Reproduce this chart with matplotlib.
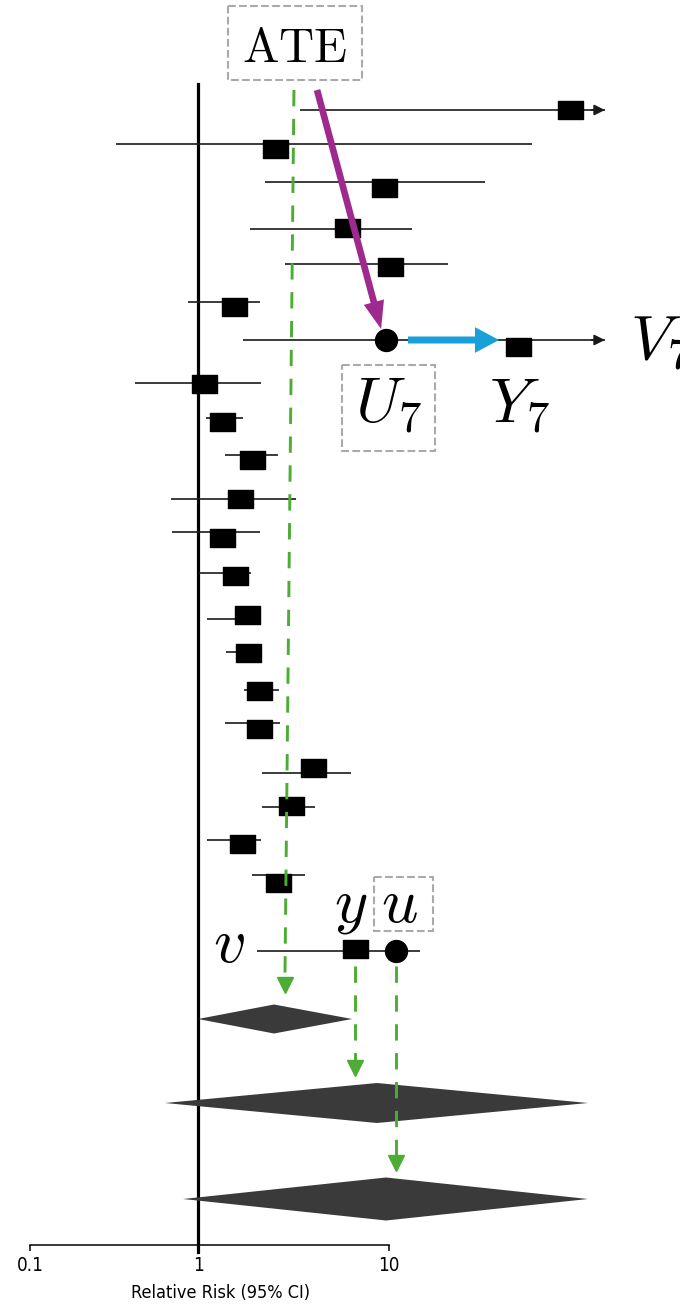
import numpy as np
import matplotlib.pyplot as plt
from matplotlib.path import Path
from matplotlib.patches import Rectangle
from matplotlib.ticker import NullLocator

plt.rcParams['mathtext.fontset'] = 'cm'
plt.rcParams['font.family'] = ['Liberation Sans Narrow', 'DejaVu Sans']
plt.rcParams['font.stretch'] = 'condensed'

# per-study relative risk and 95% CI
rr = [88.7, 2.53, 9.42, 6.03, 10.1, 1.54, 47.6, 1.075, 1.34, 1.92, 1.65,
      1.34, 1.56, 1.81, 1.83, 2.09, 2.09, 4.00, 3.07, 1.70, 2.61, 6.64]
ci_lo = [3.42, 0.325, 2.24, 1.87, 2.85, 0.872, 1.72, 0.422, 1.10, 1.385, 0.690,
         0.700, 1.01, 1.115, 1.40, 1.74, 1.385, 2.16, 2.16, 1.115, 1.92, 2.04]
ci_hi = [250, 56.1, 31.8, 13.2, 20.4, 2.11, 250, 2.14, 1.72, 2.62, 3.26,
         2.11, 1.89, 2.14, 2.14, 2.66, 2.69, 6.33, 4.10, 2.14, 3.63, 14.5]

# pooled estimates (diamonds)
pooled_rr = [2.50, 8.65, 9.65]
pooled_lo = [1.0, 0.636, 0.814]
pooled_hi = [6.41, 110, 110]

# latent values drawn as circles
u7_val = 9.59
u_new_val = 10.9
ate_val = 3.18

tick_vals = [0.1, 1, 10]
tick_labels = ['0.1', '1', '10']

# layout: vertical positions (pixel rows from the top)
line_y = [110, 144, 182, 229, 264, 302, 340, 383, 418, 455, 499,
          532, 573, 619, 652, 690, 723, 773, 807, 840, 875, 951]
box_y = [110, 149, 188, 228, 267, 307, 347, 384, 422, 460, 499,
         538, 576, 615, 653, 691, 729, 768, 806, 844, 883, 949]
diamond_y = [1019, 1103, 1199]
diamond_h = [14.5, 20, 21.5]
x_clip = 135

GREEN = '#4dac34'
PURPLE = '#9e2a90'
BLUE = '#19a0d9'
BOXGRAY = '#aaaaaa'


# log axis with a wider decade above 1 than below it
def fwd(x):
    lx = np.log10(np.clip(x, 1e-9, None))
    return np.where(lx < 0, lx * 168 / 191, lx)


def inv(t):
    t = np.asarray(t, dtype=float)
    return np.where(t < 0, 10 ** (t * 191 / 168), 10 ** t)


def dashed_box(ax, x0, x1, y0, y1):
    ax.add_patch(Rectangle((x0, y0), x1 - x0, y1 - y0, fill=False,
                           ec=BOXGRAY, ls='--', lw=1.5, zorder=8))


fig = plt.figure(figsize=(6.8, 13.04), dpi=100)
ax = fig.add_axes([0, 59 / 1304, 1, 1245 / 1304])
ax.set_xscale('function', functions=(fwd, inv))
ax.set_xlim(float(inv(-198 / 191)), float(inv(482 / 191)))
ax.set_ylim(1245, 0)

for s in ['left', 'top', 'right']:
    ax.spines[s].set_visible(False)
ax.spines['bottom'].set_bounds(0.1, 10)
ax.spines['bottom'].set_linewidth(1.1)
ax.set_yticks([])
ax.set_xticks(tick_vals)
ax.set_xticklabels(tick_labels)
ax.xaxis.set_minor_locator(NullLocator())
ax.tick_params(axis='x', length=4, width=1.1, labelsize=13.5, pad=4)
ax.set_xlabel('Relative Risk (95% CI)', fontsize=13)
ax.xaxis.set_label_coords(220.5 / 680, -0.031)

# line of no effect
ax.plot([1, 1], [84, 1252], color='black', lw=2.3, clip_on=False, zorder=2)

# study rows
rect = Path([(-1, -0.72), (1, -0.72), (1, 0.72), (-1, 0.72), (-1, -0.72)],
            [Path.MOVETO, Path.LINETO, Path.LINETO, Path.LINETO, Path.CLOSEPOLY])
for lo, hi, y in zip(ci_lo, ci_hi, line_y):
    right = min(hi, x_clip)
    ax.plot([lo, right], [y, y], color='#1a1a1a', lw=1.2, zorder=3,
            solid_capstyle='butt')
    if hi > x_clip:
        ax.annotate('', xy=(x_clip, y), xytext=(x_clip * 0.85, y),
                    arrowprops=dict(arrowstyle='-|>', color='#1a1a1a',
                                    lw=1.2, mutation_scale=16,
                                    shrinkA=0, shrinkB=0), zorder=3)
ax.plot(rr, box_y, ls='none', marker=rect, ms=18, color='black', zorder=4)

# circles for the latent values
ax.plot([u7_val, u_new_val], [line_y[6], line_y[21]], ls='none', marker='o',
        ms=15.8, color='black', zorder=5)

# pooled diamonds
for est, lo, hi, y, h in zip(pooled_rr, pooled_lo, pooled_hi, diamond_y, diamond_h):
    ax.fill([lo, est, hi, est], [y, y - h, y, y + h], color='#3a3a3a',
            lw=0, zorder=3)

# green dashed projections
dash = (0, (5.6, 4.3))
green_paths = [((ate_val, 90), (2.85, 985)),
               ((rr[21], 966), (rr[21], 1068)),
               ((u_new_val, 966), (u_new_val, 1163))]
for (x0, y0), (x1, y1) in green_paths:
    ax.plot([x0, x1], [y0, y1], color=GREEN, lw=2.1, ls=dash, zorder=6)
    ax.plot([x1], [y1], marker='v', ms=11.5, color=GREEN, ls='none', zorder=6)

# purple and blue arrows
ax.annotate('', xy=(9.09, 329), xytext=(4.20, 90),
            arrowprops=dict(arrowstyle='simple,head_length=1.0,head_width=0.75,tail_width=0.24',
                            color=PURPLE, lw=0, mutation_scale=20,
                            shrinkA=0, shrinkB=0), zorder=7)
ax.annotate('', xy=(37.7, 340), xytext=(12.57, 340),
            arrowprops=dict(arrowstyle='simple,head_length=0.62,head_width=0.66,tail_width=0.18',
                            color=BLUE, lw=0, mutation_scale=28,
                            shrinkA=0, shrinkB=0), zorder=7)

# labels
ax.text(3.22, 62, r'$\mathrm{ATE}$', fontsize=35, ha='center', va='baseline',
        zorder=8)
dashed_box(ax, 1.436, 7.23, 6, 80)
ax.text(9.9, 405, r'$U_7$', fontsize=46, ha='center', va='center', zorder=8)
dashed_box(ax, 5.67, 17.4, 365, 451)
ax.text(48, 405, r'$Y_7$', fontsize=46, ha='center', va='center', zorder=8)
ax.text(float(inv((630 - 198) / 191)), 360, r'$V_7$', fontsize=46, ha='left',
        va='baseline', zorder=8)
ax.text(6.3, 921, r'$y$', fontsize=46, ha='center', va='baseline', zorder=8)
ax.text(11.4, 922, r'$u$', fontsize=46, ha='center', va='baseline', zorder=8)
dashed_box(ax, 8.35, 17.0, 877, 931)
ax.text(1.45, 962, r'$v$', fontsize=46, ha='center', va='baseline', zorder=8)

fig.savefig('out.png', dpi=100)
